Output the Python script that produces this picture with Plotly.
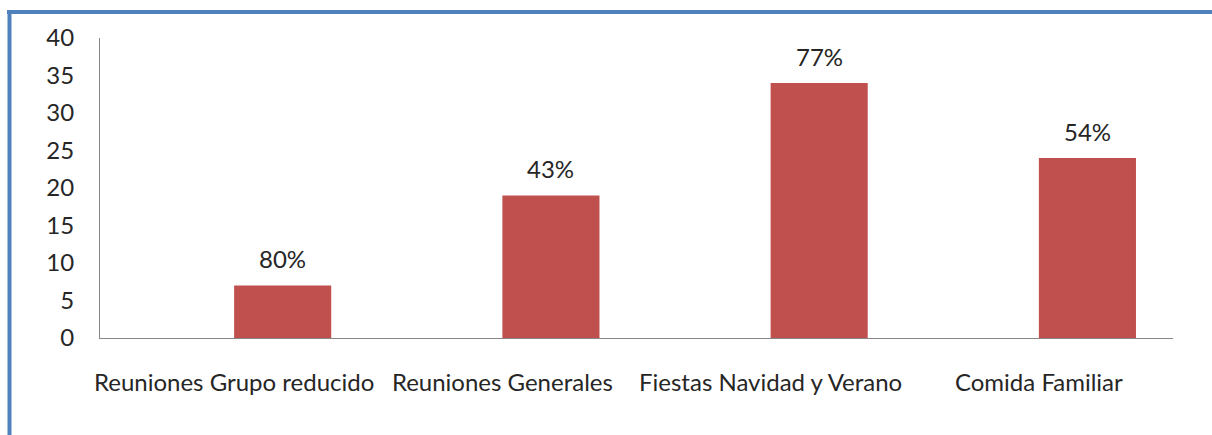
import plotly.graph_objects as go

categories = ["Reuniones Grupo reducido", "Reuniones Generales", "Fiestas Navidad y Verano", "Comida Familiar"]
values = [7, 19, 34, 24]
labels = ["80%", "43%", "77%", "54%"]
y_ticks = [0, 5, 10, 15, 20, 25, 30, 35, 40]

FONT = "Lato"
FS = 24
BAR = "#C0504D"
BORDER = "#4F81BD"
TXT = "#262626"

W, H = 1212, 435
L, R, T, B = 100, 39, 38, 97
pw, ph = W - L - R, H - T - B

def px(x):
    return (x - L) / pw

def py(y):
    return (H - B - y) / ph

BW = 0.362
xi = list(range(len(categories)))
fig = go.Figure()
fig.add_trace(go.Bar(
    x=xi, y=values, width=BW, offset=0.0,
    marker=dict(color=BAR, line=dict(width=0)),
    hoverinfo="skip",
))

for i, (v, t) in enumerate(zip(values, labels)):
    fig.add_annotation(x=i + BW / 2, y=v, text=t, showarrow=False,
                       xanchor="center", yanchor="middle", yshift=27,
                       font=dict(family=FONT, size=FS, color=TXT))

fig.update_layout(
    width=W, height=H,
    margin=dict(l=L, r=R, t=T, b=B),
    paper_bgcolor="white", plot_bgcolor="white",
    showlegend=False,
    font=dict(family=FONT, size=FS, color=TXT),
    xaxis=dict(
        tickmode="array", tickvals=xi, ticktext=categories,
        range=[-0.5, len(categories) - 0.5],
        showline=True, linecolor="#868686", linewidth=1,
        showgrid=False, zeroline=False,
        ticks="outside", ticklen=23, tickcolor="rgba(0,0,0,0)",
        tickfont=dict(family=FONT, size=FS, color=TXT),
        automargin=False,
    ),
    yaxis=dict(
        range=[0, 40], tickvals=y_ticks,
        showline=True, linecolor="#868686", linewidth=1,
        showgrid=False, zeroline=False,
        ticks="outside", ticklen=20, tickcolor="rgba(0,0,0,0)",
        tickfont=dict(family=FONT, size=FS, color=TXT),
        automargin=False,
    ),
)

# outer chart border (top and left edges visible)
fig.add_shape(type="line", xref="paper", yref="paper",
              x0=px(7), x1=px(1215), y0=py(12), y1=py(12),
              line=dict(color=BORDER, width=4))
fig.add_shape(type="line", xref="paper", yref="paper",
              x0=px(9.5), x1=px(9.5), y0=py(10), y1=py(440),
              line=dict(color=BORDER, width=4))

fig.write_html("out.html", config={"displayModeBar": False},
               post_script="document.body.style.margin='0';document.body.style.overflow='hidden';")
